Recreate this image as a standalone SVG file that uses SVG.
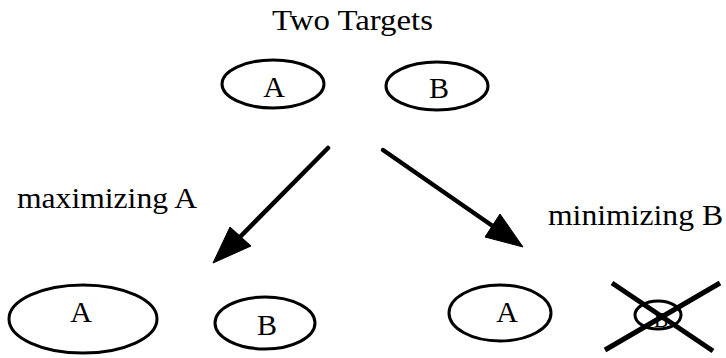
<svg xmlns="http://www.w3.org/2000/svg" width="726" height="358" viewBox="0 0 726 358">
<style>
.lbl{font-family:"Liberation Serif","Times New Roman",serif;font-size:30px;fill:#000;text-anchor:middle}
.side{font-family:"Liberation Serif","Times New Roman",serif;font-size:30px;fill:#000}
.ell{fill:none;stroke:#000;stroke-width:3}
.shaft{stroke:#000;stroke-width:4.5;stroke-linecap:round;fill:none}
.head{fill:#000;stroke:#000;stroke-width:1}
.cross{stroke:#000;stroke-width:5;fill:none}
</style>
<rect width="726" height="358" fill="#fff"/>
<text class="side" x="272" y="30" textLength="161" lengthAdjust="spacingAndGlyphs">Two Targets</text>
<g id="topA"><ellipse class="ell" cx="273" cy="84" rx="51" ry="24"/><text class="lbl" x="274" y="97">A</text></g>
<g id="topB"><ellipse class="ell" cx="437" cy="86" rx="51" ry="24"/><text class="lbl" x="439" y="98">B</text></g>
<g id="connectors">
<line class="shaft" x1="328" y1="148" x2="236" y2="241"/>
<polygon class="head" points="213,263 230,227 251,246"/>
<line class="shaft" x1="383" y1="150" x2="497" y2="229"/>
<polygon class="head" points="523,247 500,214 485,237"/>
</g>
<text class="side" x="17" y="208" textLength="180" lengthAdjust="spacingAndGlyphs">maximizing A</text>
<text class="side" x="548" y="225" textLength="175" lengthAdjust="spacingAndGlyphs">minimizing B</text>
<g id="bigA"><ellipse class="ell" cx="83" cy="319" rx="74" ry="34"/><text class="lbl" x="81" y="322">A</text></g>
<g id="smallB"><ellipse class="ell" cx="265" cy="323" rx="50" ry="26"/><text class="lbl" x="267" y="335">B</text></g>
<g id="rightA"><ellipse class="ell" cx="500" cy="313" rx="51" ry="28"/><text class="lbl" x="507" y="322">A</text></g>
<g id="crossedB"><ellipse class="ell" cx="658" cy="315" rx="23" ry="14"/><text class="lbl" style="font-size:22px" x="661" y="327">B</text>
<line class="cross" x1="612" y1="283" x2="713" y2="351"/><line class="cross" x1="720" y1="283" x2="605" y2="350"/></g>
</svg>
